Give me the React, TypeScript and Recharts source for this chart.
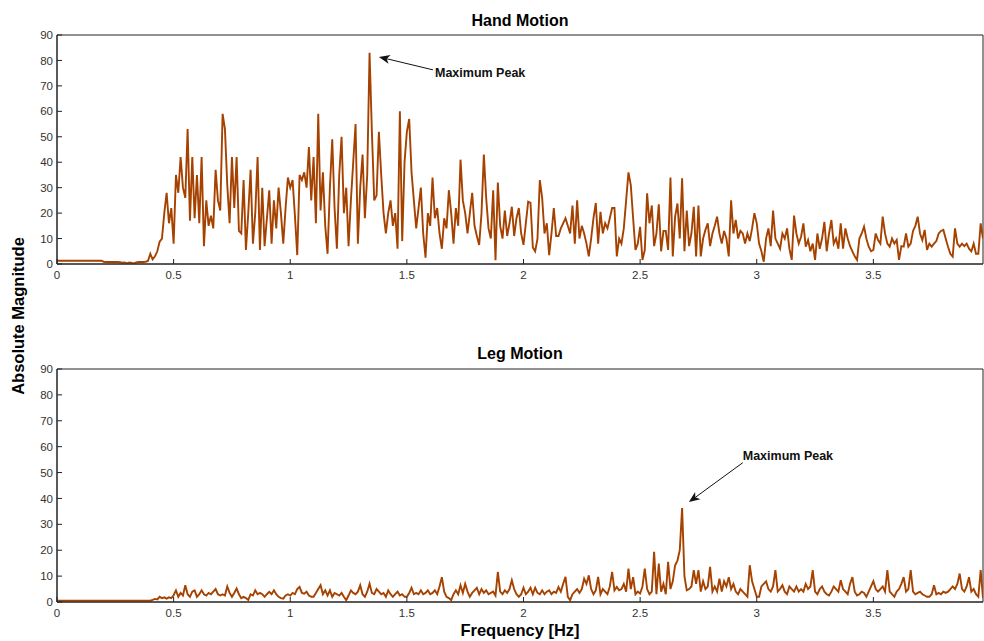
import React from "react";
import { LineChart, Line, XAxis, YAxis, ReferenceLine, ReferenceArea } from "recharts";

// frequency grid spacing (Hz) of the spectra below
const FREQ_STEP = 0.01;
const xTicks = [0, 0.5, 1, 1.5, 2, 2.5, 3, 3.5];
const yTicks = [0, 10, 20, 30, 40, 50, 60, 70, 80, 90];

// |FFT| of the hand motion, 0.00 .. 3.97 Hz
const handMagnitude = [
  1.3, 1.3, 1.3, 1.3, 1.3, 1.3, 1.3, 1.3, 1.3, 1.3,
  1.3, 1.3, 1.3, 1.3, 1.3, 1.3, 1.3, 1.3, 1.3, 1.3,
  0.9, 0.8, 0.8, 0.8, 0.8, 0.8, 0.8, 0.7, 0.5, 0.6,
  0.2, 0.6, 0.4, 0.2, 0.6, 0.8, 0.8, 0.8, 0.9, 1.2,
  4, 1.8, 3, 5, 8.8, 10, 20, 28, 16, 22,
  8, 35, 28, 42, 30, 26, 53, 17, 42, 18,
  35, 16, 42, 7, 25, 15, 19, 14, 37, 25,
  21, 59, 53, 31, 16, 42, 22, 42, 13, 12,
  33, 5.5, 20, 37, 8, 20, 42, 5.5, 30, 7,
  18, 29, 8, 25, 14, 30, 20, 8, 22, 34,
  30, 33, 19, 3.5, 35, 33, 36, 30, 46, 25,
  42, 16, 59, 21, 36, 15, 4, 30, 49, 22,
  6, 35, 50, 20, 30, 7, 25, 40, 55, 8,
  30, 43, 18, 35, 83, 52, 25, 27, 52, 35,
  20, 12, 20, 25, 15, 20, 6, 60, 9, 40,
  52, 57, 36, 25, 14, 22, 30, 12, 2.5, 20,
  15, 34, 18, 22, 12, 6, 18, 14, 29, 20,
  8, 22, 15, 41, 25, 20, 12, 20, 28, 15,
  11, 7.5, 20, 43, 26, 14, 10, 29, 1.5, 32,
  15, 10, 21, 11, 16, 22.5, 11, 18, 22, 12,
  7.5, 16, 24.5, 24, 6.5, 5, 10, 33, 26, 12,
  16, 3.5, 12, 22, 11, 11, 14, 16, 18, 15,
  12, 23, 8, 25, 10, 15, 12, 8, 3, 10,
  18, 24, 8, 20.5, 12, 16, 14, 18, 22, 22,
  3, 10, 8, 14, 25, 36, 31, 18, 5.5, 8,
  14.6, 1.6, 5.5, 27.8, 16, 23, 7, 12, 23.5, 5,
  13, 13, 5.5, 34, 3, 18.6, 23.8, 10, 33.7, 5,
  21, 7, 12, 22.5, 3, 23, 3, 10, 13.4, 16,
  7, 12, 15, 18.6, 12, 8, 13, 10, 3, 25,
  12, 17.3, 10, 13, 12, 8, 12, 9, 14, 20,
  16, 8, 5, 0.9, 10, 14, 7, 21, 10, 8,
  6, 12, 10, 14, 6, 1.6, 19, 12, 8, 10.7,
  16, 6.8, 9.4, 5, 8, 1.6, 12, 6, 10, 16.6,
  5, 12, 17.3, 8, 10, 6, 16, 6, 14, 10,
  7, 5, 3, 1.6, 10, 12, 14.7, 10, 6.8, 5,
  5.5, 12, 9.4, 8, 18.6, 12, 8, 6.8, 10, 8,
  9.4, 1.6, 7, 6.8, 12, 6.8, 8, 13, 15, 18.6,
  12, 9.4, 13.4, 5.5, 8, 6.8, 8, 9, 12, 13,
  13.4, 10, 6.8, 4, 2.9, 14, 8, 6.8, 8, 7,
  8, 6, 5, 8, 4, 4, 16, 10,
];

// |FFT| of the leg motion, 0.00 .. 3.97 Hz
const legMagnitude = [
  0.5, 0.5, 0.5, 0.5, 0.5, 0.5, 0.5, 0.5, 0.5, 0.5,
  0.5, 0.5, 0.5, 0.5, 0.5, 0.5, 0.5, 0.5, 0.5, 0.5,
  0.5, 0.5, 0.5, 0.5, 0.5, 0.5, 0.5, 0.5, 0.5, 0.5,
  0.5, 0.5, 0.5, 0.5, 0.5, 0.5, 0.5, 0.5, 0.5, 0.5,
  0.5, 0.8, 1.2, 1, 2, 1.5, 1.8, 1.3, 1.8, 1.5,
  2.6, 4.5, 2, 3.5, 2.5, 6.5, 3, 2, 4, 4.5,
  2, 3, 4.5, 3, 2.5, 3.5, 3, 4, 5, 3,
  2.5, 3, 2.5, 6, 3.5, 2, 3.5, 5.2, 3, 1.5,
  2, 1.5, 0.8, 3, 2.5, 4.5, 3, 3.5, 3, 2,
  3, 3.9, 3, 4.5, 3, 2, 1.5, 1.3, 2.5, 3,
  2.5, 3.5, 3, 5, 5.8, 3.5, 3.2, 4, 2.5, 2,
  2, 3.5, 5, 6.5, 3, 4.5, 2.5, 4.5, 2, 3.5,
  3, 2.5, 3.5, 2, 0.7, 2.5, 4.5, 3.5, 3, 4,
  6.5, 3, 2, 4, 7.1, 3.5, 3, 5, 4, 3,
  3.5, 2, 4.5, 3, 2, 3, 4, 2.5, 3, 2,
  2, 3.5, 5.5, 3, 3.5, 3, 4.5, 3, 3.5, 4.5,
  3, 3.5, 4.5, 3, 6, 9.6, 4, 2, 1.5, 0.7,
  3, 4.5, 3, 6.5, 3.5, 7, 4, 2, 3.5, 4.5,
  5.5, 3, 5, 3.5, 4.5, 3, 3.5, 4, 2.5, 11.6,
  4, 3, 4.5, 3.5, 5, 8.4, 5, 3, 2, 3,
  5.5, 3, 4, 5.5, 3, 5.5, 3.5, 3, 4.5, 3,
  4, 4.5, 3, 4, 3.5, 5.8, 4, 7, 9.7, 2,
  0.7, 3, 4, 5, 3.5, 5, 9, 7, 10.3, 5,
  3, 4.5, 9.7, 3, 5, 4, 3, 6, 11.6, 4.5,
  5.8, 4.5, 5, 7, 4, 12.9, 5, 9.6, 3, 4,
  3.3, 6, 12.9, 5, 3, 4, 19.4, 3, 14.8, 4,
  7, 3, 15.5, 5, 8, 14.2, 16, 20, 36.3, 10,
  4.5, 5, 6, 12.3, 7, 12.3, 4, 8, 5, 6,
  13.6, 4, 6, 4, 9, 4, 8, 6, 9.6, 5,
  7, 4, 3, 5, 4, 3, 2, 14.2, 8, 5,
  2, 2, 6, 7, 8, 5, 4, 6, 12.3, 4,
  5, 6.5, 4, 3, 6, 5, 4, 6, 4, 5,
  4, 7, 5, 6, 12.3, 4, 3, 5, 6, 4,
  3, 2.5, 4, 6, 5, 4, 8.4, 5, 4, 3,
  7, 9.6, 4, 2.5, 3, 4, 3.5, 2, 4, 6,
  8, 5, 4, 5, 6, 4, 12.3, 4, 3, 2,
  4, 5, 7, 9.6, 4, 5, 12.3, 4, 3, 3.5,
  4, 3, 2.5, 2, 2, 3, 6.5, 3, 3.5, 3,
  4, 3.5, 4, 5, 6, 5, 7, 11, 5, 4,
  6, 9.6, 4, 5, 3, 2, 12.3, 1.5,
];

const X_MAX = 3.97;
const LINE_COLOR = "#a64200";
const FONT = "Arial, 'Liberation Sans', sans-serif";

const toRows = (vals: number[]) =>
  vals.map((v, i) => ({ f: Math.round(i * FREQ_STEP * 100) / 100, v }));

// arrow drawn from the label (x1,y1) to the peak (x2,y2), label text next to it
const makeArrow = (label: string, dx: number, dy: number) => (props: any) => {
  const { x1, y1, x2, y2 } = props;
  const a = Math.atan2(y2 - y1, x2 - x1);
  const c = Math.cos(a);
  const s = Math.sin(a);
  const len = 11;
  const half = 4.5;
  const bx = x2 - len * c;
  const by = y2 - len * s;
  const nx = x2 - (len - 3) * c;
  const ny = y2 - (len - 3) * s;
  const head = `${x2},${y2} ${bx - half * s},${by + half * c} ${nx},${ny} ${bx + half * s},${by - half * c}`;
  return (
    <g>
      <line x1={x1} y1={y1} x2={nx} y2={ny} stroke="#111" strokeWidth={1} />
      <polygon points={head} fill="#111" />
      <text x={x1 + dx} y={y1 + dy} fontFamily={FONT} fontWeight="bold" fontSize={12.5} fill="#111">
        {label}
      </text>
    </g>
  );
};

// tick marks only, no label (for the mirrored top / right axes)
const NoLabel = () => <g />;

type PanelProps = {
  values: number[];
  top: number;
  height: number;
  plotTop: number;
  plotBottom: number;
  arrowFrom: { x: number; y: number };
  arrowTo: { x: number; y: number };
  labelDx: number;
  labelDy: number;
};

const tickStyle = { fill: "#333", fontSize: 11.5, fontFamily: FONT };
const axisLine = { stroke: "#222", strokeWidth: 1 };
const tickLine = { stroke: "#222", strokeWidth: 1 };

function Panel({ values, top, height, plotTop, plotBottom, arrowFrom, arrowTo, labelDx, labelDy }: PanelProps) {
  return (
    <div style={{ position: "absolute", left: 0, top }}>
      <LineChart
        width={984}
        height={height}
        data={toRows(values)}
        margin={{ top: plotTop, right: 1, bottom: 0, left: 0 }}
      >
        <XAxis
          xAxisId="b"
          dataKey="f"
          type="number"
          domain={[0, X_MAX]}
          ticks={xTicks}
          height={height - plotBottom}
          axisLine={axisLine}
          tickLine={tickLine}
          tickSize={-5}
          tickMargin={12}
          tick={tickStyle}
          allowDataOverflow
        />
        <XAxis
          xAxisId="t"
          dataKey="f"
          type="number"
          orientation="top"
          domain={[0, X_MAX]}
          ticks={xTicks}
          height={0}
          axisLine={axisLine}
          tickLine={tickLine}
          tickSize={-5}
          tick={NoLabel}
          allowDataOverflow
        />
        <YAxis
          yAxisId="l"
          type="number"
          domain={[0, 90]}
          ticks={yTicks}
          width={57}
          axisLine={axisLine}
          tickLine={tickLine}
          tickSize={-5}
          tickMargin={9}
          tick={tickStyle}
          allowDataOverflow
        />
        <YAxis
          yAxisId="r"
          type="number"
          orientation="right"
          domain={[0, 90]}
          ticks={yTicks}
          width={0}
          axisLine={axisLine}
          tickLine={tickLine}
          tickSize={-5}
          tick={NoLabel}
          allowDataOverflow
        />
        <ReferenceArea
          xAxisId="b"
          yAxisId="l"
          x1={0}
          x2={X_MAX}
          y1={0}
          y2={90}
          fill="none"
          fillOpacity={0}
          stroke="#222"
          strokeWidth={1}
          ifOverflow="visible"
        />
        <Line
          xAxisId="b"
          yAxisId="l"
          type="linear"
          dataKey="v"
          stroke={LINE_COLOR}
          strokeWidth={1.9}
          dot={false}
          isAnimationActive={false}
        />
        <ReferenceLine
          xAxisId="b"
          yAxisId="l"
          segment={[arrowFrom, arrowTo]}
          shape={makeArrow("Maximum Peak", labelDx, labelDy)}
          ifOverflow="visible"
        />
      </LineChart>
    </div>
  );
}

export default function App() {
  return (
    <div
      style={{
        position: "fixed",
        left: 0,
        top: 0,
        width: 984,
        height: 641,
        background: "#fff",
        overflow: "hidden",
      }}
    >
      <Panel
        values={handMagnitude}
        top={0}
        height={300}
        plotTop={35}
        plotBottom={264}
        arrowFrom={{ x: 1.612, y: 76.3 }}
        arrowTo={{ x: 1.38, y: 81.4 }}
        labelDx={2}
        labelDy={7}
      />
      <Panel
        values={legMagnitude}
        top={330}
        height={311}
        plotTop={39}
        plotBottom={272}
        arrowFrom={{ x: 2.94, y: 53.8 }}
        arrowTo={{ x: 2.709, y: 38.6 }}
        labelDx={0}
        labelDy={-3}
      />
      <svg
        width={984}
        height={641}
        style={{ position: "absolute", left: 0, top: 0, pointerEvents: "none" }}
        fontFamily={FONT}
        fontWeight="bold"
        fill="#000"
      >
        <text x={520} y={26} textAnchor="middle" fontSize={16}>
          Hand Motion
        </text>
        <text x={520} y={359} textAnchor="middle" fontSize={16}>
          Leg Motion
        </text>
        <text x={520} y={636} textAnchor="middle" fontSize={16.5}>
          Frequency [Hz]
        </text>
        <text x={24} y={316} textAnchor="middle" fontSize={16.5} transform="rotate(-90 24 316)">
          Absolute Magnitude
        </text>
      </svg>
    </div>
  );
}
